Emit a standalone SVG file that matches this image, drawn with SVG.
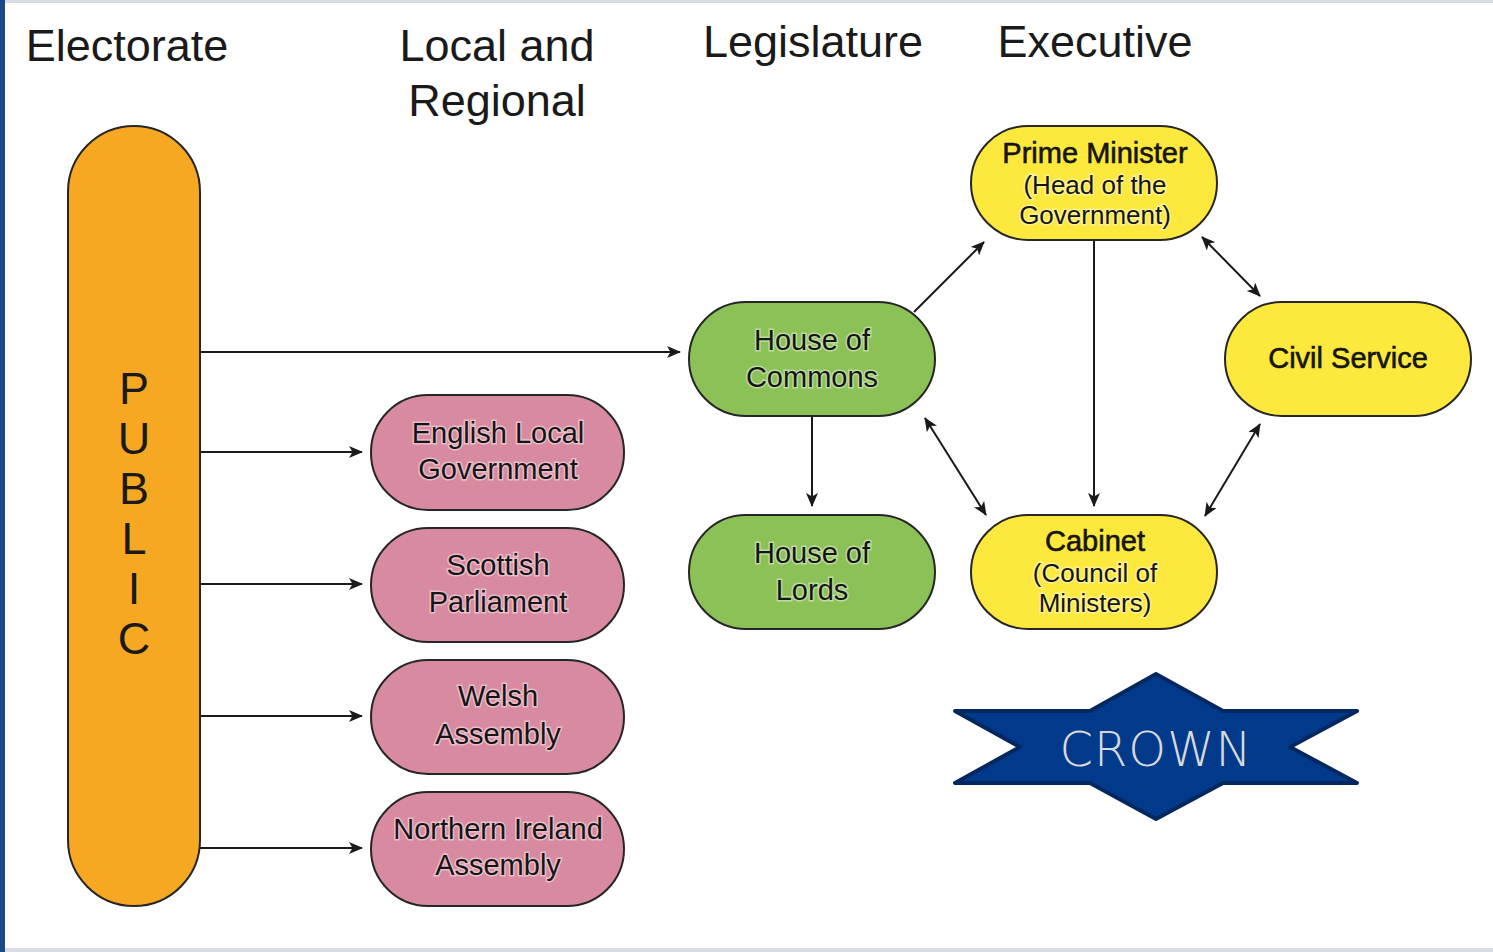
<svg xmlns="http://www.w3.org/2000/svg" width="1493" height="952" viewBox="0 0 1493 952">
  <defs>
    <marker id="arr" viewBox="0 0 14 12" refX="13" refY="6" markerWidth="14" markerHeight="12" markerUnits="userSpaceOnUse" orient="auto-start-reverse">
      <path d="M0,0 L14,6 L0,12 L3.5,6 Z" fill="#1a1a1a"/>
    </marker>
  </defs>
  <style>
    .hdr { font-family: "Liberation Sans", Arial, sans-serif; font-size: 45px; fill: #1a1a1a; text-anchor: middle; }
    .lbl { font-family: "Liberation Sans", Arial, sans-serif; font-size: 29px; fill: #151515; text-anchor: middle; stroke: rgba(255,255,255,0.45); stroke-width: 3px; paint-order: stroke; }
    .sub { font-size: 26px; }
    .strong { stroke: #151515; stroke-width: 0.6px; paint-order: normal; }
    .pub { font-family: "Liberation Sans", Arial, sans-serif; font-size: 45px; fill: #1a1a1a; text-anchor: middle; }
    .node { stroke: #262626; stroke-width: 2; }
    .orange { fill: #f6a823; }
    .pink { fill: #d88ba0; }
    .green { fill: #8bc156; }
    .yellow { fill: #fde83d; }
    .conn line { stroke: #1a1a1a; stroke-width: 2; fill: none; }
  </style>

  <!-- page frame -->
  <rect x="0" y="0" width="1493" height="952" fill="#ffffff"/>
  <rect x="0" y="0" width="1493" height="3" fill="#d8dce4"/>
  <rect x="0" y="948" width="1493" height="4" fill="#d8dce4"/>
  <rect x="0" y="0" width="5" height="952" fill="#1c4a86"/>

  <!-- column headings -->
  <g id="headings">
    <text class="hdr" x="127" y="61">Electorate</text>
    <text class="hdr" x="497" y="61">Local and</text>
    <text class="hdr" x="497" y="116">Regional</text>
    <text class="hdr" x="813" y="57">Legislature</text>
    <text class="hdr" x="1095" y="57">Executive</text>
  </g>

  <!-- connectors -->
  <g id="connectors" class="conn">
    <line x1="200" y1="352" x2="680" y2="352" marker-end="url(#arr)"/>
    <line x1="200" y1="452" x2="362" y2="452" marker-end="url(#arr)"/>
    <line x1="200" y1="584" x2="362" y2="584" marker-end="url(#arr)"/>
    <line x1="200" y1="716" x2="362" y2="716" marker-end="url(#arr)"/>
    <line x1="200" y1="848" x2="362" y2="848" marker-end="url(#arr)"/>
    <line x1="812" y1="416" x2="812" y2="506" marker-end="url(#arr)"/>
    <line x1="914" y1="312" x2="984" y2="242" marker-end="url(#arr)"/>
    <line x1="1094" y1="240" x2="1094" y2="506" marker-end="url(#arr)"/>
    <line x1="1202" y1="237" x2="1260" y2="296" marker-start="url(#arr)" marker-end="url(#arr)"/>
    <line x1="925" y1="418" x2="986" y2="515" marker-start="url(#arr)" marker-end="url(#arr)"/>
    <line x1="1260" y1="424" x2="1205" y2="516" marker-start="url(#arr)" marker-end="url(#arr)"/>
  </g>

  <!-- electorate -->
  <g id="public">
    <rect class="node orange" x="68" y="126" width="132" height="780" rx="66" ry="66"/>
    <text class="pub" x="134" y="404">P</text>
    <text class="pub" x="134" y="454">U</text>
    <text class="pub" x="134" y="504">B</text>
    <text class="pub" x="134" y="554">L</text>
    <text class="pub" x="134" y="604">I</text>
    <text class="pub" x="134" y="654">C</text>
  </g>

  <!-- local and regional -->
  <g id="english-local">
    <rect class="node pink" x="371" y="395" width="253" height="115" rx="57" ry="57"/>
    <text class="lbl" x="498" y="443">English Local</text>
    <text class="lbl" x="498" y="479">Government</text>
  </g>
  <g id="scottish-parliament">
    <rect class="node pink" x="371" y="528" width="253" height="114" rx="57" ry="57"/>
    <text class="lbl" x="498" y="575">Scottish</text>
    <text class="lbl" x="498" y="612">Parliament</text>
  </g>
  <g id="welsh-assembly">
    <rect class="node pink" x="371" y="660" width="253" height="114" rx="57" ry="57"/>
    <text class="lbl" x="498" y="706">Welsh</text>
    <text class="lbl" x="498" y="744">Assembly</text>
  </g>
  <g id="ni-assembly">
    <rect class="node pink" x="371" y="792" width="253" height="114" rx="57" ry="57"/>
    <text class="lbl" x="498" y="839">Northern Ireland</text>
    <text class="lbl" x="498" y="875">Assembly</text>
  </g>

  <!-- legislature -->
  <g id="commons">
    <rect class="node green" x="689" y="302" width="246" height="114" rx="57" ry="57"/>
    <text class="lbl" x="812" y="350">House of</text>
    <text class="lbl" x="812" y="387">Commons</text>
  </g>
  <g id="lords">
    <rect class="node green" x="689" y="515" width="246" height="114" rx="57" ry="57"/>
    <text class="lbl" x="812" y="563">House of</text>
    <text class="lbl" x="812" y="600">Lords</text>
  </g>

  <!-- executive -->
  <g id="prime-minister">
    <rect class="node yellow" x="971" y="126" width="246" height="114" rx="57" ry="57"/>
    <text class="lbl strong" x="1095" y="163">Prime Minister</text>
    <text class="lbl sub" x="1095" y="194">(Head of the</text>
    <text class="lbl sub" x="1095" y="224">Government)</text>
  </g>
  <g id="civil-service">
    <rect class="node yellow" x="1225" y="302" width="246" height="114" rx="57" ry="57"/>
    <text class="lbl strong" x="1348" y="368">Civil Service</text>
  </g>
  <g id="cabinet">
    <rect class="node yellow" x="971" y="515" width="246" height="114" rx="57" ry="57"/>
    <text class="lbl strong" x="1095" y="551">Cabinet</text>
    <text class="lbl sub" x="1095" y="582">(Council of</text>
    <text class="lbl sub" x="1095" y="612">Ministers)</text>
  </g>

  <!-- crown banner -->
  <g id="crown">
    <polygon points="1156,674 1090,711 955,711 1020,747 955,783 1090,783 1156,819 1223,783 1357,783 1290,747 1357,711 1223,711"
             fill="#023a8b" stroke="#03275f" stroke-width="4" stroke-linejoin="round"/>
    <text x="1156" y="766" font-family="'DejaVu Sans', 'Liberation Sans', sans-serif" font-size="48" font-weight="200" fill="#d9d9d9" text-anchor="middle" letter-spacing="1">CROWN</text>
  </g>
</svg>
